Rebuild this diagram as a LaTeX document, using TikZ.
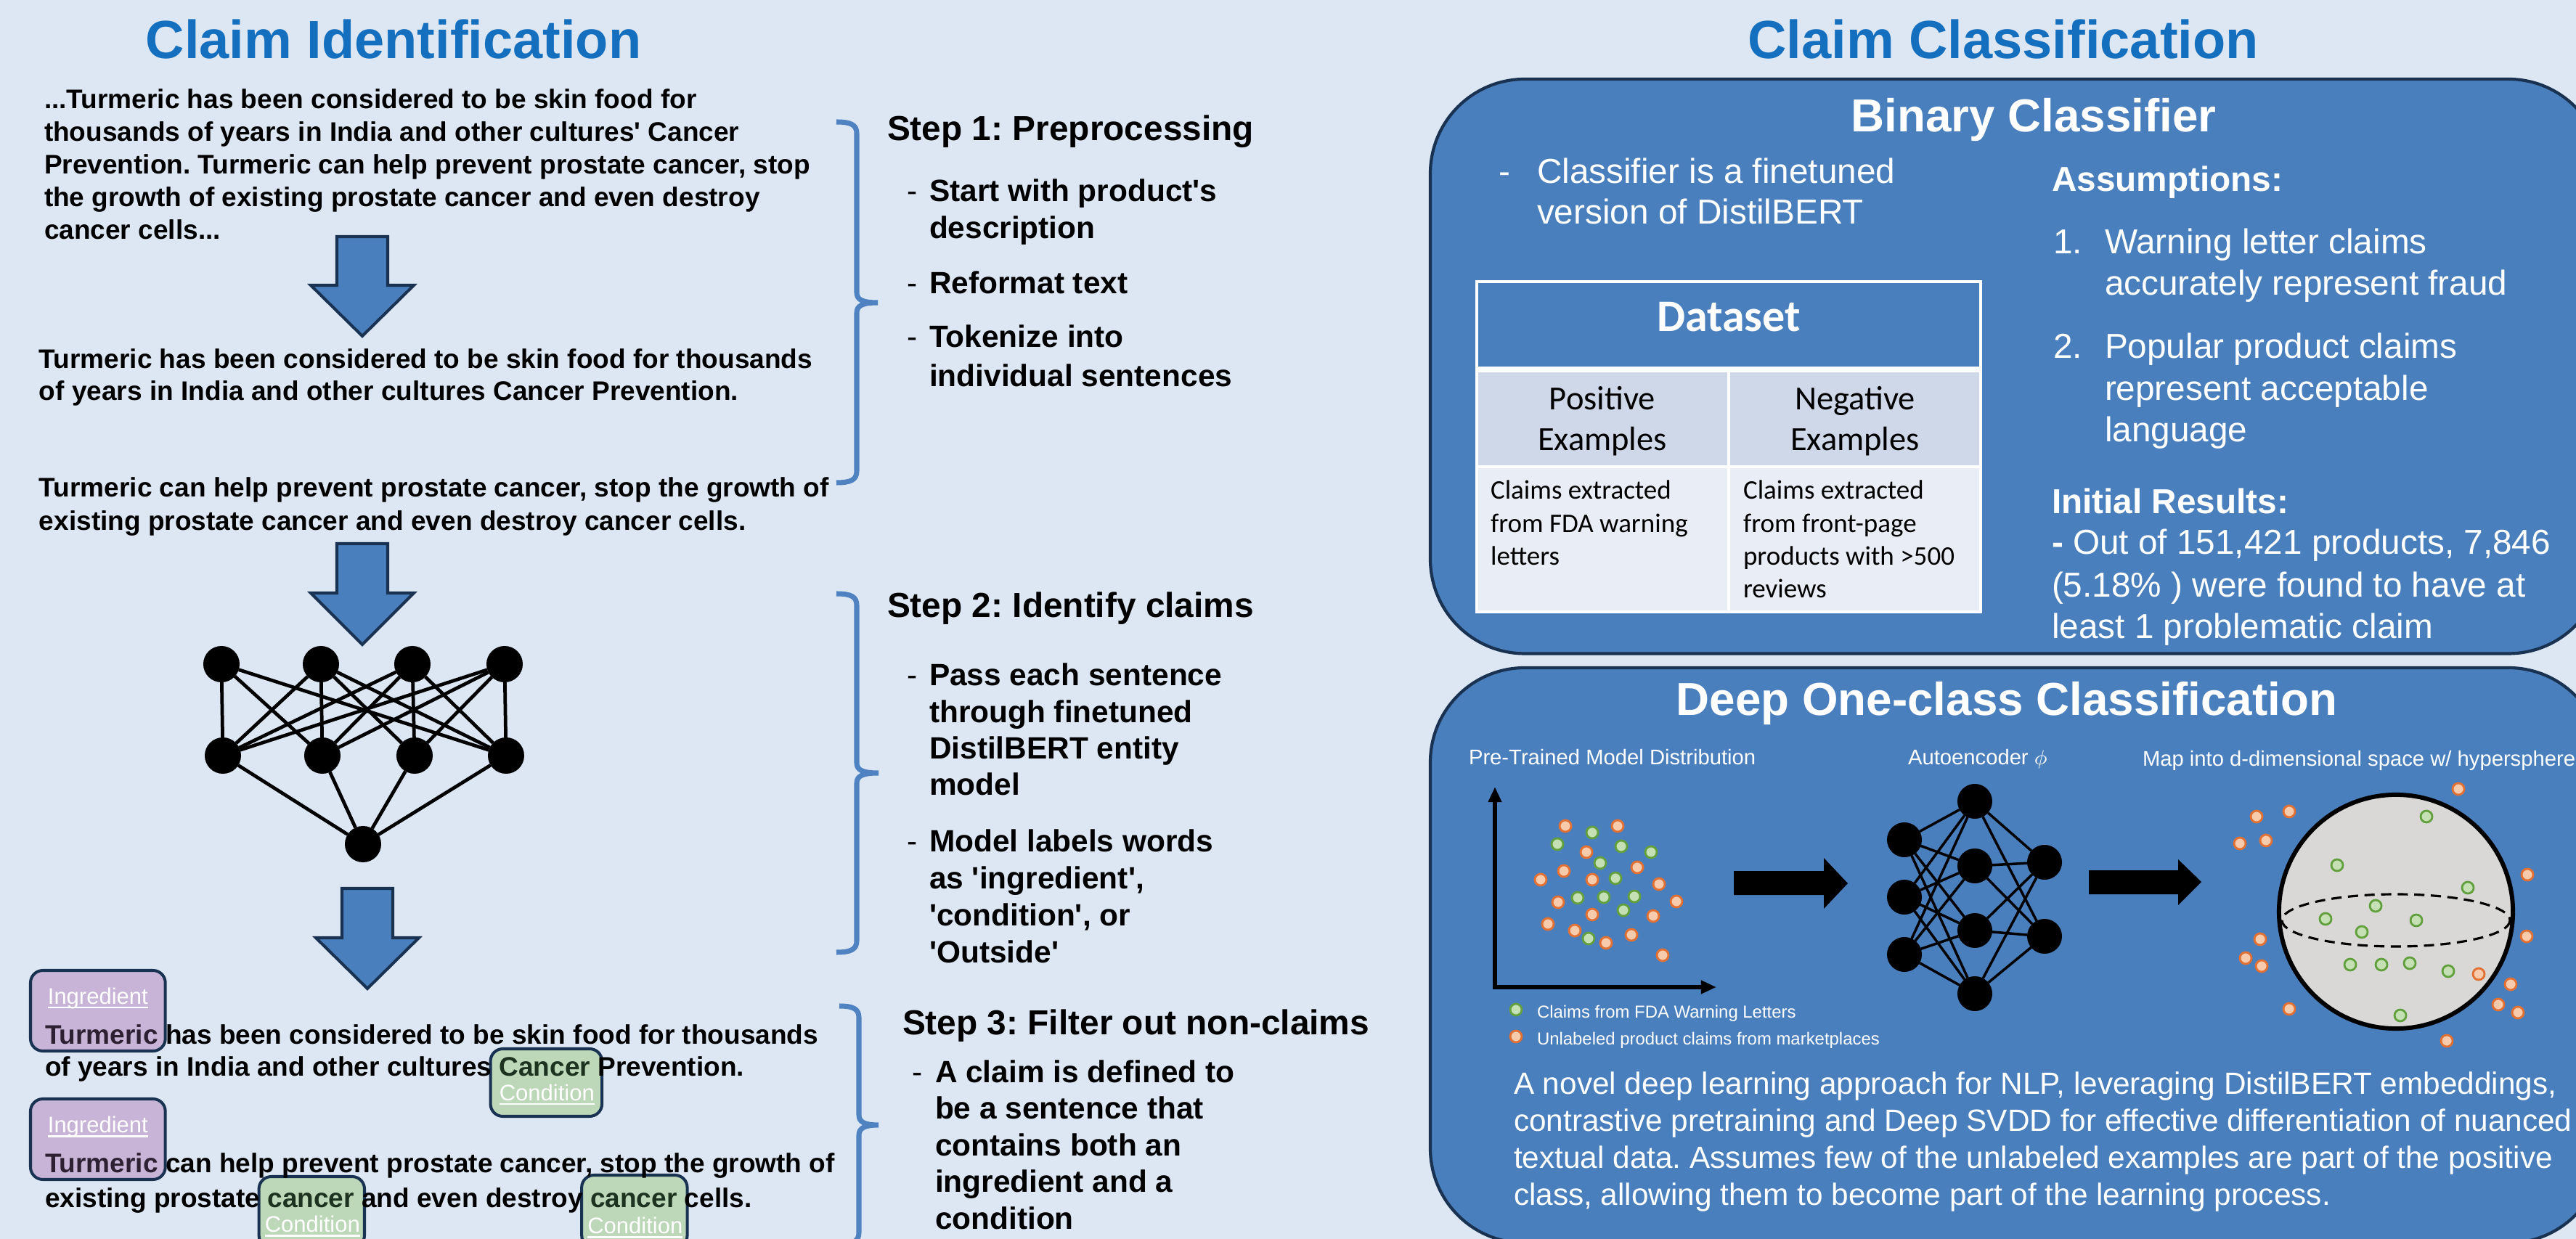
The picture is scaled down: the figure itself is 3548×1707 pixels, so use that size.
\documentclass[tikz,border=0pt]{standalone}
\usepackage{fontspec}
\setmainfont{Liberation Sans}[Ligatures=TeXOff]
\newfontfamily\calib{Carlito}[Ligatures=TeXOff]
\usetikzlibrary{calc,arrows.meta}
\pgfdeclarelayer{back}
\pgfdeclarelayer{tags}
\pgfsetlayers{back,tags,main}
\definecolor{pagebg}{RGB}{221,231,243}
\definecolor{ttlblue}{RGB}{20,111,190}
\definecolor{boxblue}{RGB}{74,127,189}
\definecolor{navy}{RGB}{26,50,82}
\definecolor{bracecol}{RGB}{79,130,192}
\definecolor{ingfill}{RGB}{200,180,215}
\definecolor{condfill}{RGB}{189,216,184}
\definecolor{ingtext}{RGB}{45,32,50}
\definecolor{condtext}{RGB}{30,50,32}
\definecolor{rowtwo}{RGB}{207,216,233}
\definecolor{rowthree}{RGB}{233,237,245}
\definecolor{gfill}{RGB}{197,224,180}
\definecolor{gline}{RGB}{98,160,62}
\definecolor{ofill}{RGB}{248,203,173}
\definecolor{oline}{RGB}{226,112,50}
\definecolor{spherefill}{RGB}{217,216,214}
\newcommand\mylines[6]{\foreach \tl [count=\ti] in {#6} {\node[#1] (#2\ti) at (#3,{#4+(\ti-1)*#5}) {\tl};}}
\newcommand\mybrace[6]{\draw[bracestyle] (#1,#4) .. controls ({#2-8},#4) and (#2,{#4+4}) .. (#2,{#4+16}) -- (#2,{#5-14}) .. controls (#2,{#5-4}) and ({#2+8},#5) .. (#3,#5) .. controls ({#2+8},#5) and (#2,{#5+4}) .. (#2,{#5+14}) -- (#2,{#6-16}) .. controls (#2,{#6-4}) and ({#2-8},#6) .. (#1,#6);}
\begin{document}
\frenchspacing
\begin{tikzpicture}[x=0.01cm, y=-0.01cm,
  every node/.style={inner sep=0pt, outer sep=0pt},
  txt/.style={anchor=base west},
  bigttl/.style={anchor=base, text=ttlblue, font=\fontsize{21.05}{25}\selectfont\bfseries},
  para/.style={txt, font=\fontsize{10.53}{13}\selectfont\bfseries},
  stephd/.style={txt, font=\fontsize{13.6}{16}\selectfont\bfseries},
  stepit/.style={txt, font=\fontsize{12.06}{14}\selectfont\bfseries},
  stepdash/.style={txt, font=\fontsize{12.06}{14}\selectfont},
  taglab/.style={anchor=base, text=white, font=\fontsize{8.82}{10}\selectfont},
  uline/.style={draw=white, line width=0.85pt},
  ingbox/.style={draw=navy, fill=ingfill, line width=1.15pt, rounded corners=0.17cm},
  condbox/.style={draw=navy, fill=condfill, line width=1.15pt, rounded corners=0.17cm},
  bracestyle/.style={draw=bracecol, line width=2pt},
  blockarr/.style={draw=navy, fill=boxblue, line width=1.15pt, line join=miter},
  nn/.style={circle, fill=black, minimum size=0.5cm},
  nnedge/.style={draw=black, line width=1.35pt},
  ae/.style={circle, fill=black, minimum size=0.48cm},
  aeedge/.style={draw=black, line width=1pt},
  bluebox/.style={draw=navy, fill=boxblue, line width=1.2pt, rounded corners=1.3cm, minimum width=16.14cm, anchor=north west},
  boxttl/.style={anchor=base, text=white, font=\fontsize{18.12}{21}\selectfont\bfseries},
  rtxt/.style={txt, text=white, font=\fontsize{13.57}{16}\selectfont},
  rbold/.style={txt, text=white, font=\fontsize{13.57}{16}\selectfont\bfseries},
  dshead/.style={anchor=base, text=white, font=\calib\fontsize{17.64}{21}\selectfont\bfseries},
  dscol/.style={anchor=base, text=black, font=\calib\fontsize{13.23}{16}\selectfont},
  dscell/.style={txt, text=black, font=\calib\fontsize{10.53}{13}\selectfont},
  smalltxt/.style={txt, text=white, font=\fontsize{8.31}{10}\selectfont},
  legtxt/.style={txt, text=white, font=\fontsize{6.8}{8}\selectfont},
  deeptxt/.style={txt, text=white, font=\fontsize{12.04}{14}\selectfont},
  gdot/.style={draw=gline, fill=gfill, line width=0.8pt},
  odot/.style={draw=oline, fill=ofill, line width=0.8pt},
  axisln/.style={draw=black, line width=1.7pt},
]
\useasboundingbox (0,0) rectangle (3548,1707);
\begin{pgfonlayer}{back}
\fill[pagebg] (0,0) rectangle (3548,1707);
\end{pgfonlayer}

% ---------------- Left: Claim Identification ----------------
\node[bigttl] (ttlL) at (542,81) {Claim Identification};

\mylines{para}{pa}{61}{150}{45}{{.{}.{}.Turmeric has been considered to be skin food for},{thousands of years in India and other cultures' Cancer},{Prevention. Turmeric can help prevent prostate cancer, stop},{the growth of existing prostate cancer and even destroy},{cancer cells.{}.{}.}}
\mylines{para}{pb}{54}{508}{44}{{Turmeric has been considered to be skin food for thousands},{of years in India and other cultures Cancer Prevention.}}
\mylines{para}{pc}{54}{685}{46}{{Turmeric can help prevent prostate cancer, stop the growth of},{existing prostate cancer and even destroy cancer cells.}}

\draw[blockarr] (464,326) -- (534,326) -- (534,393) -- (570,393) -- (499,463) -- (428,393) -- (464,393) -- cycle;
\draw[blockarr] (464,749) -- (534,749) -- (534,817) -- (570,817) -- (499,888) -- (428,817) -- (464,817) -- cycle;
\draw[blockarr] (471,1224) -- (541,1224) -- (541,1292) -- (577,1292) -- (506,1362) -- (435,1292) -- (471,1292) -- cycle;

% neural net
\node[nn] (n11) at (305,915) {};
\node[nn] (n12) at (442,915) {};
\node[nn] (n13) at (568,915) {};
\node[nn] (n14) at (695,915) {};
\node[nn] (n21) at (307,1041) {};
\node[nn] (n22) at (444,1041) {};
\node[nn] (n23) at (571,1041) {};
\node[nn] (n24) at (697,1041) {};
\node[nn] (n30) at (500,1163) {};
\foreach \a/\b in {11/21,11/22,11/24,12/21,12/22,12/23,12/24,13/21,13/22,13/23,13/24,14/21,14/22,14/23,14/24,21/30,22/30,23/30,24/30}
  \draw[nnedge] (n\a) -- (n\b);

% tagged sentences
\node[para, text=ingtext] (tA1) at (62,1438) {Turmeric};
\node[para] (tA2) at (tA1.base east) {\ has been considered to be skin food for thousands};
\node[para] (tB1) at (62,1482) {of years in India and other cultures\ \null};
\node[para, text=condtext] (tB2) at (tB1.base east) {Cancer};
\node[para] (tB3) at (tB2.base east) {\ Prevention.};
\node[para, text=ingtext] (tC1) at (62,1615) {Turmeric};
\node[para] (tC2) at (tC1.base east) {\ can help prevent prostate cancer, stop the growth of};
\node[para] (tD1) at (62,1663) {existing prostate\ \null};
\node[para, text=condtext] (tD2) at (tD1.base east) {cancer};
\node[para] (tD3) at (tD2.base east) {\ and even destroy\ \null};
\node[para, text=condtext] (tD4) at (tD3.base east) {cancer};
\node[para] (tD5) at (tD4.base east) {\ cells.};
\begin{pgfonlayer}{tags}
\draw[ingbox] ($(tA1.base west)+(-20,-101)$) rectangle ($(tA1.base east)+(10,10)$);
\draw[ingbox] ($(tC1.base west)+(-20,-101)$) rectangle ($(tC1.base east)+(10,10)$);
\draw[condbox] ($(tB2.base west)+(-12,-37)$) rectangle ($(tB2.base east)+(16,56)$);
\draw[condbox] ($(tD2.base west)+(-12,-42)$) rectangle ($(tD2.base east)+(14,56)$);
\draw[condbox] ($(tD4.base west)+(-12,-44)$) rectangle ($(tD4.base east)+(14,56)$);
\end{pgfonlayer}
\node[taglab] (lA) at ($(tA1.base)+(-5,-55)$) {Ingredient};
\node[taglab] (lC) at ($(tC1.base)+(-5,-55)$) {Ingredient};
\node[taglab] (lB) at ($(tB2.base)+(3,34)$) {Condition};
\node[taglab] (lD) at ($(tD2.base)+(2,34)$) {Condition};
\node[taglab] (lE) at ($(tD4.base)+(2,36)$) {Condition};
\foreach \l in {lA,lB,lC,lD,lE}
  \draw[uline] ($(\l.base west)+(0,5)$) -- ($(\l.base east)+(0,5)$);

% braces
\mybrace{1152}{1180}{1209}{168}{417}{665}
\mybrace{1152}{1180}{1210}{818}{1065}{1312}
\mybrace{1156}{1183}{1210}{1386}{1550}{1714}

% steps
\node[stephd] (s1) at (1222,194) {Step 1: Preprocessing};
\node[stepdash] (s1d1) at (1249,278) {-};
\node[stepdash] (s1d2) at (1249,405) {-};
\node[stepdash] (s1d3) at (1249,479) {-};
\node[stepit] (s1a) at (1280,278) {Start with product's};
\node[stepit] (s1b) at (1280,329) {description};
\node[stepit] (s1c) at (1280,405) {Reformat text};
\node[stepit] (s1e) at (1280,479) {Tokenize into};
\node[stepit] (s1f) at (1280,533) {individual sentences};

\node[stephd] (s2) at (1222,851) {Step 2: Identify claims};
\node[stepdash] (s2d1) at (1249,945) {-};
\node[stepdash] (s2d2) at (1249,1173) {-};
\mylines{stepit}{s2a}{1280}{945}{50.3}{{Pass each sentence},{through finetuned},{DistilBERT entity},{model}}
\mylines{stepit}{s2b}{1280}{1173}{51.3}{{Model labels words},{as 'ingredient',},{'condition', or},{'Outside'}}

\node[stephd] (s3) at (1243,1425) {Step 3: Filter out non-claims};
\node[stepdash] (s3d1) at (1256,1491) {-};
\mylines{stepit}{s3a}{1288}{1491}{50.5}{{A claim is defined to},{be a sentence that},{contains both an},{ingredient and a},{condition}}

% ---------------- Right: Claim Classification ----------------
\node[bigttl] (ttlR) at (2759,81) {Claim Classification};

\node[bluebox, minimum height=7.91cm] (binbox) at (1970,109) {};
\node[boxttl] (binttl) at (2801,182) {Binary Classifier};
\node[rtxt] (bdash) at (2064,253) {-};
\mylines{rtxt}{bc}{2117}{253}{56}{{Classifier is a finetuned},{version of DistilBERT}}
\node[rbold] (assum) at (2826,264) {Assumptions:};
\node[rtxt] (n1) at (2828,350) {1.};
\mylines{rtxt}{as1}{2899}{350}{57}{{Warning letter claims},{accurately represent fraud}}
\node[rtxt] (n2) at (2828,494) {2.};
\mylines{rtxt}{as2}{2899}{494}{57.5}{{Popular product claims},{represent acceptable},{language}}
\node[rbold] (initr) at (2826,708) {Initial Results:};
\node[rtxt] (ir1) at (2826,764) {{\bfseries -} Out of 151,421 products, 7,846};
\node[rtxt] (ir2) at (2826,823) {(5.18\% ) were found to have at};
\node[rtxt] (ir3) at (2826,880) {least 1 problematic claim};

% dataset table
\fill[boxblue] (2034,388) rectangle (2728,509);
\fill[rowtwo] (2034,509) rectangle (2728,643);
\fill[rowthree] (2034,643) rectangle (2728,843);
\draw[white, line width=0.9pt] (2034,388) rectangle (2728,843);
\draw[white, line width=2.2pt] (2034,509) -- (2728,509);
\draw[white, line width=0.9pt] (2034,643) -- (2728,643);
\draw[white, line width=0.9pt] (2381,509) -- (2381,843);
\node[dshead] (dsh) at (2381,457) {Dataset};
\node[dscol] (pos1) at (2207,565) {Positive};
\node[dscol] (pos2) at (2207,621) {Examples};
\node[dscol] (neg1) at (2555,565) {Negative};
\node[dscol] (neg2) at (2555,621) {Examples};
\mylines{dscell}{cl}{2053}{688}{45.3}{{Claims extracted},{from FDA warning},{letters}}
\mylines{dscell}{cr}{2401}{688}{45.3}{{Claims extracted},{from front-page},{products with >500},{reviews}}

% deep one-class box
\node[bluebox, minimum height=7.92cm] (deepbox) at (1970,920) {};
\node[boxttl] (deepttl) at (2764,985) {Deep One-class Classification};
\node[smalltxt] (lab1) at (2023,1054) {Pre-Trained Model Distribution};
\node[smalltxt] (lab2) at (2628,1054) {Autoencoder $\phi$};
\node[smalltxt] (lab3) at (2951,1055) {Map into d-dimensional space w/ hypersphere};

\coordinate (org) at (2059,1360);
\coordinate (ytop) at (2059,1084);
\coordinate (xend) at (2364,1360);
\draw[axisln, {Triangle[length=6pt,width=5pt]}-{Triangle[length=6pt,width=5pt]}] (ytop) -- (org) -- (xend);

\foreach \p in {(2156,1138),(2228,1138),(2185,1174),(2255,1195),(2154,1200),(2122,1212),(2193,1212),(2285,1218),(2309,1242),(2146,1243),(2193,1260),(2277,1262),(2132,1273),(2169,1282),(2212,1299),(2247,1288),(2290,1316)}
  \draw[odot] \p circle (8);
\foreach \p in {(2193,1147),(2145,1163),(2233,1166),(2274,1174),(2204,1189),(2225,1210),(2173,1237),(2209,1236),(2251,1235),(2236,1254),(2188,1293)}
  \draw[gdot] \p circle (8);

\draw[gdot] (2088,1391) circle (8);
\draw[odot] (2088,1428) circle (8);
\node[legtxt] (leg1) at (2117,1402) {Claims from FDA Warning Letters};
\node[legtxt] (leg2) at (2117,1439) {Unlabeled product claims from marketplaces};

\fill[black] (2388,1200) -- (2512,1200) -- (2512,1182) -- (2545,1217) -- (2512,1252) -- (2512,1233) -- (2388,1233) -- cycle;
\fill[black] (2877,1199) -- (3000,1199) -- (3000,1184) -- (3032,1215) -- (3000,1247) -- (3000,1232) -- (2877,1232) -- cycle;

% autoencoder
\node[ae] (a1) at (2623,1157) {};
\node[ae] (a2) at (2623,1236) {};
\node[ae] (a3) at (2623,1315) {};
\node[ae] (b1) at (2720,1104) {};
\node[ae] (b2) at (2720,1193) {};
\node[ae] (b3) at (2720,1282) {};
\node[ae] (b4) at (2720,1369) {};
\node[ae] (c1) at (2816,1188) {};
\node[ae] (c2) at (2816,1290) {};
\foreach \a in {a1,a2,a3} \foreach \b in {b1,b2,b3,b4} \draw[aeedge] (\a) -- (\b);
\foreach \b in {b1,b2,b3,b4} \foreach \c in {c1,c2} \draw[aeedge] (\b) -- (\c);

% hypersphere
\node[circle, draw=black, fill=spherefill, line width=1.7pt, minimum size=3.22cm] (sphere) at (3300,1256) {};
\draw[black, line width=0.9pt, dash pattern=on 4pt off 2.5pt] ($(sphere.center)+(0,12)$) ellipse (157 and 36);
\foreach \p in {(3342,1125),(3219,1192),(3399,1223),(3272,1248),(3203,1266),(3328,1268),(3253,1284),(3237,1329),(3280,1329),(3319,1327),(3372,1338),(3306,1399)}
  \draw[gdot] \p circle (8);
\foreach \p in {(3386,1087),(3153,1118),(3108,1125),(3085,1162),(3121,1158),(3481,1205),(3480,1290),(3113,1294),(3093,1320),(3115,1331),(3414,1342),(3458,1356),(3441,1384),(3468,1395),(3153,1390),(3370,1434)}
  \draw[odot] \p circle (8);

\mylines{deeptxt}{dp}{2085}{1507}{51.3}{{A novel deep learning approach for NLP, leveraging DistilBERT embeddings,},{contrastive pretraining and Deep SVDD for effective differentiation of nuanced},{textual data. Assumes few of the unlabeled examples are part of the positive},{class, allowing them to become part of the learning process.}}
\end{tikzpicture}
\end{document}
